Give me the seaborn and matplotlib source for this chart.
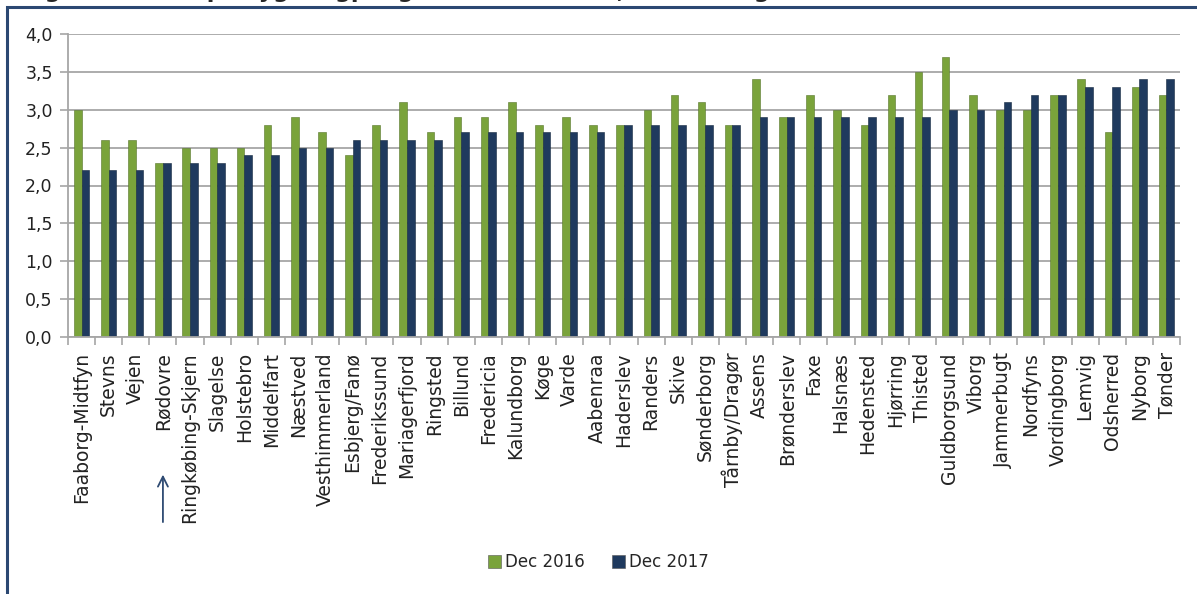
import matplotlib
matplotlib.use('Agg')
import matplotlib.pyplot as plt
import seaborn as sns
import pandas as pd
import numpy as np
from matplotlib.patches import Rectangle, Patch

kommuner = ['Faaborg-Midtfyn', 'Stevns', 'Vejen', 'Rødovre', 'Ringkøbing-Skjern', 'Slagelse',
            'Holstebro', 'Middelfart', 'Næstved', 'Vesthimmerland', 'Esbjerg/Fanø', 'Frederikssund',
            'Mariagerfjord', 'Ringsted', 'Billund', 'Fredericia', 'Kalundborg', 'Køge', 'Varde',
            'Aabenraa', 'Haderslev', 'Randers', 'Skive', 'Sønderborg', 'Tårnby/Dragør', 'Assens',
            'Brønderslev', 'Faxe', 'Halsnæs', 'Hedensted', 'Hjørring', 'Thisted', 'Guldborgsund',
            'Viborg', 'Jammerbugt', 'Nordfyns', 'Vordingborg', 'Lemvig', 'Odsherred', 'Nyborg', 'Tønder']
dec_2016 = [3.0, 2.6, 2.6, 2.3, 2.5, 2.5, 2.5, 2.8, 2.9, 2.7, 2.4, 2.8, 3.1, 2.7, 2.9, 2.9, 3.1,
            2.8, 2.9, 2.8, 2.8, 3.0, 3.2, 3.1, 2.8, 3.4, 2.9, 3.2, 3.0, 2.8, 3.2, 3.5, 3.7, 3.2,
            3.0, 3.0, 3.2, 3.4, 2.7, 3.3, 3.2]
dec_2017 = [2.2, 2.2, 2.2, 2.3, 2.3, 2.3, 2.4, 2.4, 2.5, 2.5, 2.6, 2.6, 2.6, 2.6, 2.7, 2.7, 2.7,
            2.7, 2.7, 2.7, 2.8, 2.8, 2.8, 2.8, 2.8, 2.9, 2.9, 2.9, 2.9, 2.9, 2.9, 2.9, 3.0, 3.0,
            3.1, 3.2, 3.2, 3.3, 3.3, 3.4, 3.4]
serier = ['Dec 2016', 'Dec 2017']
farver = ['#7AA33B', '#1F3A5E']
titel = 'Figur 5: Andel på sygedagpenge i kommunerne, sammenlignet med året før'

n = len(kommuner)
df = pd.DataFrame({'Kommune': kommuner * 2,
                   'Andel': dec_2016 + dec_2017,
                   'Periode': [serier[0]] * n + [serier[1]] * n})

sns.set_theme(style='white')
plt.rcParams['font.family'] = ['DejaVu Sans']

fig = plt.figure(figsize=(11.97, 5.94), dpi=100)
ax = fig.add_axes([68 / 1197, 1 - 337 / 594, 1112 / 1197, 303 / 594])

sns.barplot(data=df, x='Kommune', y='Andel', hue='Periode', palette=farver, saturation=1,
            width=0.56, gap=0, ax=ax, legend=False, linewidth=0.4)
for bar, c in zip(ax.patches, [farver[0]] * n + [farver[1]] * n):
    bar.set_edgecolor('#56762a' if c == farver[0] else '#142840')

ax.set_ylim(0, 4)
ax.set_xlim(-0.5, n - 0.5)
ax.set_yticks(np.arange(0, 4.01, 0.5))
ax.set_yticklabels([f'{v:.1f}'.replace('.', ',') for v in np.arange(0, 4.01, 0.5)])
ax.yaxis.grid(True, color='#A6A6A6', lw=1.3)
ax.set_axisbelow(True)
for s in ['top', 'right']:
    ax.spines[s].set_visible(False)
for s in ['left', 'bottom']:
    ax.spines[s].set_color('#A6A6A6')
    ax.spines[s].set_linewidth(1.3)
ax.set_xlabel(None)
ax.set_ylabel(None)

ax.tick_params(axis='y', length=6, color='#A6A6A6', width=1.2, direction='out',
               labelsize=12.5, pad=5, left=True, labelcolor='#222222')
ax.set_xticks(range(n))
ax.set_xticklabels(kommuner, rotation=90, fontsize=13.5, color='#222222')
ax.set_xticks(np.arange(-0.5, n, 1), minor=True)
ax.tick_params(axis='x', which='major', length=0, pad=11)
ax.tick_params(axis='x', which='minor', length=6, color='#A6A6A6', width=1.2,
               direction='out', bottom=True)

# pil under Rødovre
ax.annotate('', xy=(3, -0.445), xytext=(3, -0.62), xycoords=ax.get_xaxis_transform(),
            textcoords=ax.get_xaxis_transform(), annotation_clip=False,
            arrowprops=dict(arrowstyle='->,head_length=0.6,head_width=0.3', color='#2F4B73', lw=1.3))

handles = [Patch(facecolor=c, edgecolor='#555555', linewidth=0.4) for c in farver]
fig.legend(handles, serier, loc='center', bbox_to_anchor=(0.5, 1 - 562 / 594), ncol=2,
           frameon=False, handlelength=0.8, handleheight=0.8, handletextpad=0.25,
           columnspacing=1.6, fontsize=12)

fig.add_artist(Rectangle((7 / 1197, -0.1), 1.2, 1.1 - 7 / 594, transform=fig.transFigure,
                         fill=False, edgecolor='#2B4872', lw=2.2))
fig.text(22 / 1197, 1 + 2 / 594, titel, fontsize=16, fontweight='bold', va='baseline')

fig.savefig('out.png', dpi=100)
